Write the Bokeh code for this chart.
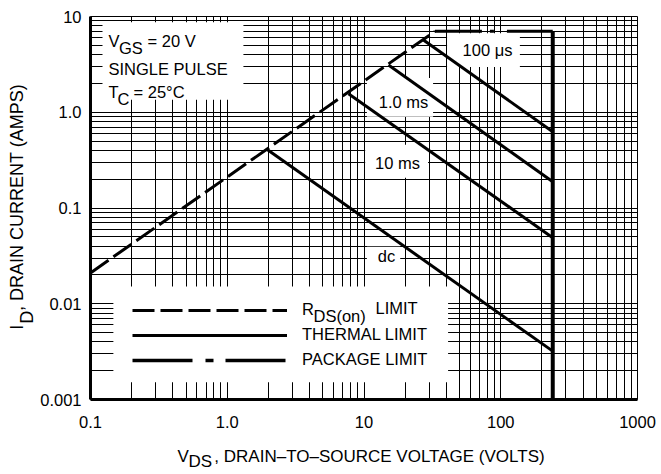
import math
from bokeh.plotting import figure
from bokeh.models import FixedTicker, Label, Legend, LegendItem, Range1d, LogAxis
from bokeh.embed import file_html
from bokeh.resources import INLINE

# ---- axis ticks / labels ----
x_ticks = [0.1, 1, 10, 100, 1000]
x_tick_labels = ["0.1", "1.0", "10", "100", "1000"]
y_ticks = [0.001, 0.01, 0.1, 1, 10]
y_tick_labels = ["0.001", "0.01", "0.1", "1.0", "10"]

# ---- curves (VDS volts, ID amps) ----
rds_v = [0.1, 33.0]
rds_i = [0.021, 7.0]
pkg_v = [33.0, 240.0]
pkg_i = [7.0, 7.0]
bv_v = [240.0, 240.0]
bv_i = [7.0, 0.001]
t100us_v = [27.2, 240.0]
t100us_i = [5.69, 0.625]
t1ms_v = [15.1, 240.0]
t1ms_i = [3.12, 0.188]
t10ms_v = [7.7, 240.0]
t10ms_i = [1.56, 0.049]
dc_v = [1.97, 240.0]
dc_i = [0.405, 0.0032]

FONT = "Liberation Sans"
FS = "16.5px"

W, H = 660, 473
FL, FR, FT, FB = 90, 637, 16, 400  # frame edges in canvas pixels
XDEC = (FR - FL) / 4.0
YDEC = (FB - FT) / 4.0


def xdata(px):
    return 10 ** ((px - FL) / XDEC - 1)


def ydata(py):
    return 10 ** (1 - (py - FT) / YDEC)


p = figure(width=W, height=H, x_axis_type="log", y_axis_type="log",
           x_range=Range1d(0.1, 1000), y_range=Range1d(0.001, 10),
           output_backend="svg", toolbar_location=None,
           min_border_left=FL, min_border_right=W - FR,
           min_border_top=FT, min_border_bottom=H - FB)
p.background_fill_color = "white"
p.border_fill_color = "white"
p.outline_line_color = "black"
p.outline_line_width = 1

xa = p.xaxis[0]
ya = p.yaxis[0]
minor_x = [k * 10.0 ** e for e in range(-1, 3) for k in range(2, 10)]
minor_y = [k * 10.0 ** e for e in range(-3, 1) for k in range(2, 10)]
xa.ticker = FixedTicker(ticks=x_ticks, minor_ticks=minor_x)
ya.ticker = FixedTicker(ticks=y_ticks, minor_ticks=minor_y)
xa.major_label_overrides = dict(zip(x_ticks, x_tick_labels))
ya.major_label_overrides = dict(zip(y_ticks, y_tick_labels))


def plain(ax, size, standoff):
    ax.major_tick_line_color = None
    ax.minor_tick_line_color = None
    ax.major_tick_out = 0
    ax.major_tick_in = 0
    ax.minor_tick_out = 0
    ax.minor_tick_in = 0
    ax.major_label_text_font = FONT
    ax.major_label_text_font_size = size
    ax.major_label_text_color = "black"
    ax.major_label_standoff = standoff


plain(xa, FS, 16)
plain(ya, FS, 9)
for ax in (xa, ya):
    ax.axis_line_width = 3
    ax.axis_line_color = "black"

for g in (p.xgrid, p.ygrid):
    g.grid_line_color = "black"
    g.grid_line_width = 1
    g.grid_line_alpha = 1
    g.minor_grid_line_color = "black"
    g.minor_grid_line_width = 1


def label_axis(place, pieces, size, standoff, orient="horizontal"):
    ticks = [pos for _, pos in pieces]
    ax = LogAxis(ticker=FixedTicker(ticks=ticks, minor_ticks=[]),
                 major_label_overrides={pos: t for t, pos in pieces},
                 axis_line_color=None, major_label_orientation=orient)
    plain(ax, size, standoff)
    p.add_layout(ax, place)
    return ax


# x-axis title: subscript "DS" row first, then "V" + rest pulled back up over it
label_axis("below", [("DS", xdata(199.8))], "17px", 21)
label_axis("below", [("V", xdata(182.7)),
                     (", DRAIN–TO–SOURCE VOLTAGE (VOLTS)", xdata(379.0))],
           "17px", -27)
# y-axis title: "I" + subscript "D" + rest
label_axis("left", [("D", ydata(317.5))], "18px", 0, "parallel")
label_axis("left", [("I", ydata(327.5)),
                    (", DRAIN CURRENT (AMPS)", ydata(197.5))],
           "18px", -13, "parallel")

# ---- white label boxes (decoration) ----
box_left = [0.1224, 40.5, 10.5, 10.2, 10.5, 0.147]
box_right = [1.313, 138.0, 32.0, 29.4, 18.4, 41.2]
box_bottom = [1.347, 2.975, 0.895, 0.207, 0.0217, 0.00151]
box_top = [8.7, 6.7, 2.28, 0.457, 0.0395, 0.0151]
p.quad(left=box_left, right=box_right, bottom=box_bottom, top=box_top,
       fill_color="white", line_color=None)

# ---- curves ----
LW = 3
r_rds = p.line(rds_v, rds_i, line_color="black", line_width=LW, line_dash="22 6")
p.line(pkg_v, pkg_i, line_color="black", line_width=LW, line_dash="47 8 4 13")
p.line(bv_v, bv_i, line_color="black", line_width=4)
r_th = None
for vv, ii in ((t100us_v, t100us_i), (t1ms_v, t1ms_i), (t10ms_v, t10ms_i), (dc_v, dc_i)):
    r = p.line(vv, ii, line_color="black", line_width=LW)
    if r_th is None:
        r_th = r
# legend sample for package limit (hidden duplicate with legend dash spacing)
r_pk = p.line(pkg_v, pkg_i, line_color="black", line_width=3.5,
              line_dash="60 13 8 12", visible=False)


def sx(px):
    return px - FL


def sy(py):
    return FB - py


legend = Legend(items=[LegendItem(label="R", renderers=[r_rds]),
                       LegendItem(label="THERMAL LIMIT", renderers=[r_th]),
                       LegendItem(label="PACKAGE LIMIT", renderers=[r_pk])],
                location=(sx(122), sy(380.5)),
                glyph_width=155, glyph_height=20, label_height=20, spacing=5,
                padding=10, margin=0, label_standoff=15,
                background_fill_alpha=0, border_line_alpha=0,
                label_text_font=FONT, label_text_font_size=FS, label_text_color="black")
p.add_layout(legend)

DY = -6  # baseline correction for labels


def lab(text, px, py, align="left", size=FS):
    p.add_layout(Label(x=sx(px), y=sy(py + DY), x_units="screen", y_units="screen",
                       text=text, text_font=FONT, text_font_size=size,
                       text_color="black", text_align=align,
                       text_baseline="alphabetic"))


# top-left conditions
lab("V", 108, 47)
lab("GS", 118.5, 54)
lab("= 20 V", 147, 47)
lab("SINGLE PULSE", 108, 75)
lab("T", 108, 98)
lab("C", 117, 105)
lab("= 25°C", 133, 98)

# curve labels
lab("100 μs", 487, 56, "center")
lab("1.0 ms", 403, 108, "center")
lab("10 ms", 397, 169, "center")
lab("dc", 386, 262, "center")

# legend first row extra text
lab("DS(on)", 313, 322)
lab("LIMIT", 375, 314)

open("out.html", "w").write(file_html(p, INLINE))
